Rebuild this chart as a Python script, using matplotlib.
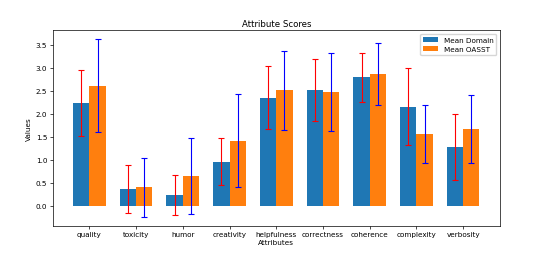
import matplotlib.pyplot as plt
import numpy as np

attributes = ['quality', 'toxicity', 'humor', 'creativity', 'helpfulness',
              'correctness', 'coherence', 'complexity', 'verbosity']
mean_domain = [2.23, 0.37, 0.23, 0.96, 2.35, 2.51, 2.79, 2.15, 1.28]
std_domain = [0.71, 0.52, 0.43, 0.50, 0.68, 0.67, 0.53, 0.83, 0.72]
mean_oasst = [2.61, 0.40, 0.65, 1.41, 2.51, 2.47, 2.86, 1.55, 1.66]
std_oasst = [1.01, 0.64, 0.83, 1.01, 0.86, 0.84, 0.68, 0.63, 0.74]

x = np.arange(len(attributes))
width = 0.35

fig = plt.figure(figsize=(5.38, 2.55), dpi=100)
ax = fig.add_axes([0.098, 0.111, 0.831, 0.767])

ax.bar(x - width/2, mean_domain, width, yerr=std_domain, capsize=2.5,
       ecolor='red', error_kw={'elinewidth': 0.8, 'capthick': 0.8},
       label='Mean Domain', color='#1f77b4')
ax.bar(x + width/2, mean_oasst, width, yerr=std_oasst, capsize=2.5,
       ecolor='blue', error_kw={'elinewidth': 0.8, 'capthick': 0.8},
       label='Mean OASST', color='#ff7f0e')

ax.set_xticks(x)
ax.set_xticklabels(attributes)
ax.tick_params(axis='both', labelsize=5.2, length=2, width=0.5, pad=2)
ax.set_xlabel('Attributes', fontsize=5.2, labelpad=1)
ax.set_ylabel('Values', fontsize=5.2, labelpad=3)
ax.set_title('Attribute Scores', fontsize=6.2, pad=3)
ax.legend(loc='upper right', fontsize=5.2)
for s in ax.spines.values():
    s.set_linewidth(0.5)

fig.savefig('out.png', dpi=100)
